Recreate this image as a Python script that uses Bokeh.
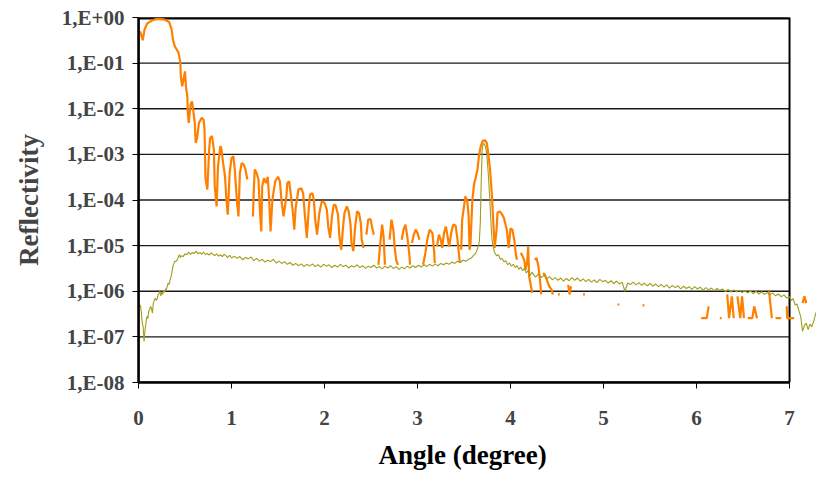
import numpy as np
from bokeh.plotting import figure
from bokeh.models import ColumnDataSource, FixedTicker, CustomJSTickFormatter, Range1d, Title
from bokeh.embed import file_html
from bokeh.resources import INLINE

nan = np.nan

# ---------------- data ----------------
x_ticks = [0, 1, 2, 3, 4, 5, 6, 7]
y_decades = [1e-8, 1e-7, 1e-6, 1e-5, 1e-4, 1e-3, 1e-2, 1e-1, 1e0]
x_label = "Angle (degree)"
y_label = "Reflectivity"

# orange curve: angle (degree) and log10(reflectivity); nan = gap in the curve
orange_angle = [
    0.018, 0.046, 0.065, 0.094, 0.15, 0.20, 0.27, 0.33, 0.356, 0.37, 0.39, 0.43, 0.45, 0.455,
    0.47, 0.49, 0.50, 0.51, 0.525, 0.53, 0.54, 0.56, 0.575, 0.59, 0.605, 0.615, 0.63, 0.65,
    0.68, 0.70, 0.71, 0.72, 0.74, 0.76, 0.77, 0.79, 0.81, 0.82, 0.84, 0.855, 0.88, 0.89,
    0.91, 0.93, 0.945, 0.96, 0.98, 1.00, 1.02, 1.035, 1.06, 1.075, 1.09, 1.11, 1.13, 1.15,
    1.17, nan,
    1.23, 1.24, 1.25, 1.27, 1.29, 1.305, 1.32, 1.33, 1.35, 1.37, 1.39, 1.405, 1.42, 1.44,
    1.47, 1.50, 1.52, 1.54, 1.56, 1.59, 1.60, 1.62, 1.64, 1.66, 1.675, 1.69, 1.72, 1.75,
    1.77, 1.79, 1.81, 1.83, 1.845, 1.87, 1.885, 1.90, 1.92, 1.945, 1.97, 2.00, 2.025, 2.04,
    2.06, 2.08, 2.10, 2.12, 2.145, 2.16, 2.18, 2.20, 2.215, 2.24, 2.26, 2.28, 2.29, 2.31,
    2.33, 2.35, 2.37, 2.39, 2.40, 2.42, nan,
    2.45, 2.47, 2.495, 2.51, 2.53, nan,
    2.58, 2.60, 2.62, 2.635, 2.65, nan,
    2.70, 2.72, 2.74, 2.755, 2.77, 2.79, nan,
    2.83, 2.85, 2.87, 2.89, 2.91, 2.92, nan,
    2.94, 2.96, 2.98, 3.00, 3.02, nan,
    3.06, 3.085, 3.105, 3.13, 3.16, 3.18, 3.185, nan,
    3.21, 3.23, 3.25, 3.265, 3.285, 3.305, 3.32, 3.34, 3.365, 3.385, 3.41, 3.43, 3.455, nan,
    3.47, 3.48, 3.50, 3.515, 3.535, 3.55, 3.56, 3.57, 3.59, 3.61, 3.625, 3.645, 3.66, 3.68,
    3.70, 3.725, 3.745, 3.76, 3.78, 3.80, 3.815, 3.83, 3.85, 3.86, 3.885, 3.91, 3.93, 3.96,
    3.98, 4.00, 4.02, 4.04, 4.06, 4.07, nan,
    4.11, 4.13, 4.15, 4.16, 4.18, 4.19, 4.20, 4.22, 4.235, nan,
    4.26, 4.28, 4.30, 4.32, 4.33, nan,
    4.35, 4.37, 4.39, 4.415, 4.44, 4.455, nan,
    4.51, 4.53, nan,
    4.62, 4.635, 4.65, nan,
    4.78, 4.80, nan,
    5.15, 5.17, nan,
    5.42, 5.44, nan,
    6.05, 6.11, 6.13, nan,
    6.25, 6.27, nan,
    6.33, 6.35, 6.38, 6.40, nan,
    6.44, 6.47, 6.49, 6.51, nan,
    6.55, 6.60, 6.62, 6.65, nan,
    6.78, 6.81, nan,
    6.85, 6.91, nan,
    6.97, 6.975, 7.05, nan,
    7.14, 7.16, 7.18,
]
orange_log = [
    -0.30, -0.50, -0.26, -0.13, -0.06, -0.03, -0.04, -0.10, -0.26, -0.48, -0.63, -0.77, -0.99, -1.29,
    -1.51, -1.29, -1.18, -1.51, -1.73, -2.09, -2.31, -1.90, -1.84, -2.05, -2.31, -2.75, -2.64, -2.31,
    -2.20, -2.24, -2.46, -3.52, -3.77, -2.89, -2.64, -2.60, -2.89, -3.70, -4.14, -3.26, -2.82, -2.86,
    -3.19, -3.48, -3.99, -4.32, -3.41, -3.08, -3.04, -3.33, -4.06, -4.36, -3.41, -3.19, -3.22, -3.33,
    -3.55, nan,
    -4.36, -3.77, -3.33, -3.41, -3.55, -4.21, -4.69, -3.70, -3.52, -3.63, -3.49, -3.99, -4.69, -3.99,
    -3.59, -3.49, -3.59, -4.06, -4.36, -3.92, -3.63, -3.59, -3.92, -4.28, -4.65, -4.17, -3.77, -3.74,
    -3.85, -4.36, -4.83, -4.21, -3.88, -3.85, -3.99, -4.43, -4.76, -4.28, -4.03, -4.06, -4.21, -4.58,
    -4.83, -4.36, -4.10, -4.12, -4.32, -4.80, -5.09, -4.58, -4.28, -4.14, -4.25, -4.54, -4.94, -5.12,
    -4.58, -4.25, -4.28, -4.50, -4.87, -5.05, nan,
    -4.76, -4.43, -4.42, -4.58, -4.76, nan,
    -5.42, -4.94, -4.54, -4.80, -5.42, nan,
    -4.87, -4.43, -4.65, -5.05, -5.31, -5.42, nan,
    -4.87, -4.65, -4.54, -4.80, -5.15, -5.42, nan,
    -4.94, -4.76, -4.65, -4.72, -4.87, nan,
    -5.42, -5.16, -4.87, -4.65, -4.72, -5.16, -5.38, nan,
    -5.02, -4.76, -4.87, -5.05, -4.72, -4.58, -4.76, -5.02, -4.69, -4.54, -4.56, -4.87, -5.38, nan,
    -5.09, -4.43, -4.14, -3.92, -4.03, -4.36, -5.09, -4.94, -3.99, -3.63, -3.52, -3.33, -3.04, -2.82,
    -2.71, -2.69, -2.75, -2.97, -3.33, -3.90, -4.50, -5.05, -4.65, -4.28, -4.25, -4.32, -4.40, -4.65,
    -5.05, -4.62, -4.65, -4.87, -5.23, -5.31, nan,
    -5.16, -5.23, -5.34, -5.53, -5.34, -5.02, -5.67, -5.89, -6.04, nan,
    -5.31, -5.27, -5.45, -5.82, -6.07, nan,
    -5.60, -5.64, -5.75, -5.89, -5.96, -6.07, nan,
    -6.07, -6.07, nan,
    -5.86, -6.07, -5.89, nan,
    -6.07, -6.07, nan,
    -6.29, -6.29, nan,
    -6.31, -6.31, nan,
    -6.59, -6.59, -6.33, nan,
    -6.59, -6.59, nan,
    -6.07, -6.59, -6.11, -6.59, nan,
    -6.11, -6.59, -6.11, -6.59, nan,
    -6.59, -6.59, -6.33, -6.59, nan,
    -6.00, -6.59, nan,
    -6.59, -6.59, nan,
    -6.33, -6.59, -6.59, nan,
    -6.26, -6.11, -6.26,
]

# olive curve: angle (degree) and log10(reflectivity)
olive_angle = [
    0.02, 0.03, 0.04, 0.05, 0.06, 0.07, 0.08, 0.09, 0.10, 0.11, 0.12, 0.13, 0.14, 0.15, 0.16,
    0.17, 0.18, 0.19, 0.20, 0.21, 0.22, 0.23, 0.24, 0.25, 0.26, 0.27, 0.28, 0.29, 0.30, 0.31,
    0.32, 0.33, 0.34, 0.35, 0.36, 0.37, 0.38, 0.39, 0.40, 0.42, 0.43, 0.44, 0.45, 0.46, 0.48,
    0.50, 0.52, 0.54, 0.56, 0.58, 0.60, 0.62, 0.64, 0.66, 0.68, 0.70, 0.72, 0.74, 0.76, 0.78,
    0.80, 0.82, 0.84, 0.86, 0.88, 0.90, 0.92, 0.94, 0.96, 0.98, 1.00, 1.03, 1.06, 1.09, 1.12,
    1.15, 1.18, 1.21, 1.24, 1.27, 1.30, 1.33, 1.36, 1.39, 1.42, 1.45, 1.48, 1.51, 1.54, 1.57,
    1.60, 1.63, 1.66, 1.69, 1.72, 1.75, 1.78, 1.81, 1.84, 1.87, 1.90, 1.93, 1.96, 1.99, 2.02,
    2.05, 2.08, 2.11, 2.14, 2.17, 2.20, 2.23, 2.26, 2.29, 2.32, 2.35, 2.38, 2.41, 2.44, 2.47,
    2.50, 2.53, 2.56, 2.59, 2.62, 2.65, 2.68, 2.71, 2.74, 2.77, 2.80, 2.83, 2.86, 2.89, 2.92,
    2.95, 2.98, 3.01, 3.04, 3.07, 3.10, 3.13, 3.16, 3.19, 3.22, 3.25, 3.28, 3.31, 3.34, 3.37,
    3.40, 3.43, 3.46, 3.49, 3.52, 3.55, 3.58, 3.60, 3.62, 3.64, 3.655, 3.665, 3.675, 3.685, 3.695,
    3.705, 3.715, 3.73, 3.745, 3.76, 3.775, 3.79, 3.80, 3.815, 3.83, 3.85, 3.87, 3.89, 3.91, 3.93,
    3.95, 3.97, 3.99, 4.01, 4.03, 4.05, 4.07, 4.09, 4.11, 4.13, 4.15, 4.17, 4.19, 4.21, 4.23,
    4.25, 4.27, 4.30, 4.33, 4.36, 4.39, 4.42, 4.45, 4.48, 4.51, 4.54, 4.57, 4.60, 4.63, 4.66,
    4.69, 4.72, 4.75, 4.78, 4.81, 4.84, 4.87, 4.90, 4.93, 4.96, 4.99, 5.02, 5.05, 5.08, 5.11,
    5.14, 5.17, 5.20, 5.23, 5.26, 5.29, 5.32, 5.35, 5.38, 5.41, 5.44, 5.47, 5.50, 5.53, 5.56,
    5.59, 5.62, 5.65, 5.68, 5.71, 5.74, 5.77, 5.80, 5.83, 5.86, 5.89, 5.92, 5.95, 5.98, 6.01,
    6.04, 6.07, 6.10, 6.13, 6.16, 6.19, 6.22, 6.25, 6.28, 6.31, 6.34, 6.37, 6.40, 6.43, 6.46,
    6.49, 6.52, 6.55, 6.58, 6.61, 6.64, 6.67, 6.70, 6.73, 6.76, 6.79, 6.82, 6.85, 6.88, 6.91,
    6.94, 6.97, 7.00, 7.02, 7.04, 7.06, 7.08, 7.10, 7.12, 7.14, 7.16, 7.18, 7.20, 7.22, 7.24,
    7.26, 7.28, 7.30,
]
olive_log = [
    -6.30, -6.45, -6.70, -6.78, -7.10, -6.85, -6.70, -6.55, -6.60, -6.44, -6.40, -6.33, -6.38, -6.48, -6.25,
    -6.20, -6.15, -6.20, -6.17, -6.08, -6.05, -6.00, -6.10, -6.02, -6.07, -5.98, -6.02, -5.95, -5.96, -5.88,
    -5.82, -5.85, -5.75, -5.68, -5.58, -5.45, -5.40, -5.34, -5.35, -5.30, -5.24, -5.20, -5.26, -5.22, -5.24,
    -5.18, -5.20, -5.14, -5.19, -5.15, -5.17, -5.12, -5.18, -5.15, -5.19, -5.14, -5.20, -5.17, -5.21, -5.16,
    -5.19, -5.22, -5.18, -5.23, -5.20, -5.24, -5.19, -5.22, -5.26, -5.21, -5.27, -5.23, -5.28, -5.24, -5.31,
    -5.26, -5.29, -5.25, -5.33, -5.28, -5.34, -5.30, -5.36, -5.32, -5.35, -5.30, -5.38, -5.34, -5.39, -5.35,
    -5.41, -5.37, -5.43, -5.39, -5.44, -5.40, -5.46, -5.41, -5.45, -5.40, -5.46, -5.42, -5.47, -5.41, -5.45,
    -5.42, -5.48, -5.43, -5.47, -5.41, -5.46, -5.43, -5.49, -5.44, -5.47, -5.42, -5.48, -5.44, -5.50, -5.45,
    -5.48, -5.43, -5.49, -5.46, -5.51, -5.45, -5.49, -5.44, -5.50, -5.46, -5.52, -5.47, -5.51, -5.45, -5.49,
    -5.44, -5.48, -5.43, -5.47, -5.42, -5.46, -5.41, -5.45, -5.40, -5.44, -5.39, -5.42, -5.38, -5.41, -5.36,
    -5.39, -5.34, -5.37, -5.32, -5.34, -5.30, -5.27, -5.22, -5.18, -5.10, -5.00, -4.90, -4.50, -3.60, -2.90,
    -2.78, -2.76, -2.82, -3.00, -3.40, -3.90, -4.50, -4.85, -5.05, -5.15, -5.22, -5.20, -5.30, -5.28, -5.36,
    -5.33, -5.42, -5.38, -5.45, -5.41, -5.48, -5.44, -5.52, -5.47, -5.55, -5.50, -5.60, -5.54, -5.66, -5.58,
    -5.64, -5.69, -5.62, -5.70, -5.65, -5.73, -5.68, -5.75, -5.70, -5.76, -5.71, -5.78, -5.72, -5.77, -5.70,
    -5.76, -5.71, -5.78, -5.73, -5.79, -5.74, -5.80, -5.75, -5.81, -5.74, -5.79, -5.76, -5.82, -5.77, -5.83,
    -5.78, -5.84, -5.80, -6.00, -5.82, -5.85, -5.80, -5.86, -5.81, -5.87, -5.82, -5.88, -5.83, -5.89, -5.84,
    -5.90, -5.85, -5.91, -5.86, -5.93, -5.87, -5.92, -5.88, -5.95, -5.89, -5.94, -5.90, -5.96, -5.90, -5.95,
    -5.91, -5.98, -5.92, -5.97, -5.93, -5.99, -5.94, -5.98, -5.95, -6.01, -5.96, -6.02, -5.97, -6.01, -5.98,
    -6.03, -5.99, -6.04, -5.99, -6.05, -6.00, -6.06, -6.01, -6.07, -6.03, -6.08, -6.04, -6.10, -6.06, -6.12,
    -6.08, -6.15, -6.12, -6.20, -6.16, -6.30, -6.28, -6.42, -6.55, -6.88, -6.75, -6.70, -6.84, -6.72, -6.78,
    -6.66, -6.50, -6.40,
]

# ---------------- figure ----------------
FONT = "Liberation Serif"
X_END = 7.29

orange_src = ColumnDataSource(dict(x=orange_angle, y=10.0 ** np.array(orange_log)))
olive_src = ColumnDataSource(dict(x=olive_angle, y=10.0 ** np.array(olive_log)))

p = figure(width=816, height=480, y_axis_type="log",
           x_range=Range1d(0, X_END), y_range=Range1d(1e-8, 1),
           output_backend="svg", toolbar_location=None,
           min_border_left=138, min_border_right=0, min_border_top=17, min_border_bottom=97)
p.outline_line_color = None
p.grid.visible = False
p.background_fill_color = "white"
p.border_fill_color = "white"

# horizontal grid lines at each decade, ending at the last x tick
inner = y_decades[1:-1]
p.segment(x0=[x_ticks[0]] * len(inner), x1=[x_ticks[-1]] * len(inner), y0=inner, y1=inner,
          line_color="#1a1a1a", line_width=1.3)
# plot box
p.quad(left=[x_ticks[0]], right=[x_ticks[-1]], bottom=[y_decades[0]], top=[y_decades[-1]],
       fill_color=None, line_color="black", line_width=2)
p.segment(x0=[x_ticks[0]], x1=[x_ticks[-1]], y0=[y_decades[-1]], y1=[y_decades[-1]],
          line_color="black", line_width=4)

p.line("x", "y", source=orange_src, line_color="#ff8000", line_width=2.2)
p.line("x", "y", source=olive_src, line_color="#a09e1c", line_width=1.1)

# y axis
ya = p.yaxis[0]
ya.ticker = FixedTicker(ticks=y_decades, minor_ticks=[])
ya.formatter = CustomJSTickFormatter(code="""
const e = Math.round(Math.log10(tick));
return "1,E" + (e < 0 ? "-" : "+") + String(Math.abs(e)).padStart(2, "0");
""")
ya.axis_label = y_label
ya.axis_label_text_font = FONT
ya.axis_label_text_font_style = "bold"
ya.axis_label_text_font_size = "27px"
ya.axis_label_standoff = 15
ya.major_label_text_font = FONT
ya.major_label_text_font_style = "bold"
ya.major_label_text_font_size = "21px"
ya.major_label_standoff = 8
ya.major_tick_out = 6
ya.major_tick_in = 0
ya.minor_tick_out = 0
ya.minor_tick_in = 0
ya.axis_line_width = 2.5
ya.axis_line_color = "black"
ya.major_tick_line_color = "black"

# x axis
xa = p.xaxis[0]
xa.ticker = FixedTicker(ticks=x_ticks, minor_ticks=[])
xa.bounds = (x_ticks[0], x_ticks[-1])
xa.major_label_text_font = FONT
xa.major_label_text_font_style = "bold"
xa.major_label_text_font_size = "21px"
xa.major_label_standoff = 22
xa.major_tick_out = 6
xa.major_tick_in = 0
xa.minor_tick_out = 0
xa.minor_tick_in = 0
xa.axis_line_width = 2.5
xa.axis_line_color = "black"
xa.major_tick_line_color = "black"

# x axis title, placed under the 0..7 span of the axis
p.add_layout(Title(text=x_label, align="left", offset=240, standoff=21,
                   text_font=FONT, text_font_style="bold", text_font_size="27px",
                   text_color="black"), "below")

open("out.html", "w").write(file_html(p, INLINE))
